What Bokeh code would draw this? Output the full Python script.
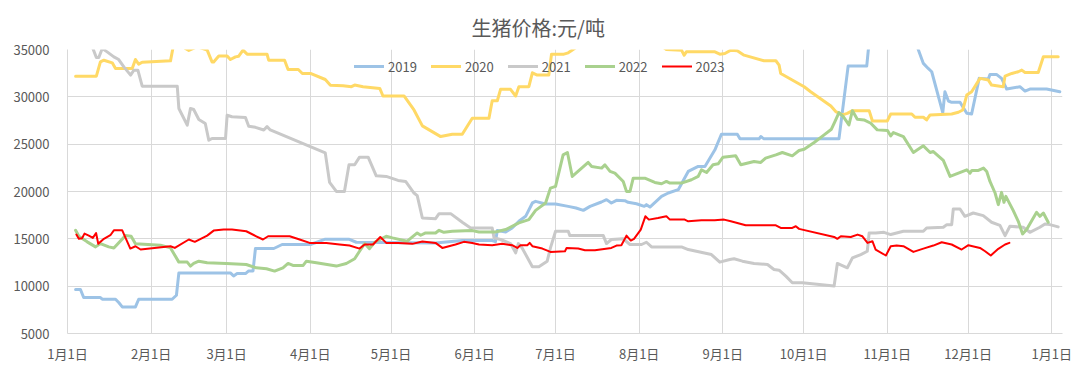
from bokeh.plotting import figure
from bokeh.models import Range1d, FixedTicker, Legend, LegendItem
from bokeh.embed import file_html
from bokeh.resources import INLINE

title_text = "生猪价格:元/吨"
month_days = [0, 31, 59, 90, 120, 151, 181, 212, 243, 273, 304, 334, 365]
month_labels = ["1月1日", "2月1日", "3月1日", "4月1日", "5月1日", "6月1日", "7月1日",
                "8月1日", "9月1日", "10月1日", "11月1日", "12月1日", "1月1日"]
y_ticks = [5000, 10000, 15000, 20000, 25000, 30000, 35000]

d2019 = [3, 4.8, 6, 12.2, 12.9, 17.8, 19, 20.3, 25.2, 26.4, 38.8, 40.4, 41.3, 60.4, 61.6, 62.9, 66, 67.2,
         68.8, 69.7, 76.5, 79.6, 90.1, 95.6, 104.3, 107.1, 136.5, 146.4, 157.5, 158.7, 159.4, 162.5, 164.9,
         167.4, 169.9, 172.4, 173.6, 177.3, 181, 185.7, 188.6, 191.3, 193.8, 198, 199.9, 201.7, 203.6,
         206.7, 207.9, 211, 213.9, 214.7, 216, 220.3, 222.8, 226.5, 230.2, 233.9, 236.4, 240.1, 242.5,
         248.4, 249.4, 256.5, 257.1, 258.3, 286.1, 289.5, 296.4, 297, 301.3, 310.6, 315.5, 317.4, 319.2,
         320.5, 324.6, 325.4, 326.7, 327.9, 331, 333.5, 335.3, 338.1, 341.5, 342.1, 344.5, 346.4, 348.3,
         353.2, 355.1, 356.9, 363.1, 368]
v2019 = [9650, 9650, 8800, 8800, 8620, 8620, 8270, 7810, 7810, 8620, 8620, 9040, 11400, 11400, 11080, 11330,
         11330, 11610, 11610, 13980, 13980, 14400, 14400, 14960, 14960, 14640, 14570, 14820, 14820, 14700,
         15870, 15730, 16150, 16850, 17380, 18790, 18960, 18680, 18680, 18430, 18260, 18010, 18430, 18890,
         19140, 18780, 19070, 19030, 18860, 18710, 18430, 18610, 18360, 19490, 19840, 20190, 22120, 22650,
         22650, 24400, 26050, 26050, 25560, 25560, 25800, 25560, 25560, 33250, 33250, 35000, 40000, 40000,
         35000, 33530, 33000, 32650, 28330, 30540, 29560, 29420, 29420, 28260, 28190, 31950, 31880, 32370,
         32370, 31950, 30820, 31070, 30610, 30820, 30820, 30540]

d2020 = [3, 10.7, 12.2, 13.5, 16.6, 17.8, 24, 25.2, 26.4, 27.7, 38.2, 40, 43, 43.7, 45, 48.1, 51.8, 53.6,
         54.2, 56.1, 59.2, 60.4, 62.3, 63.5, 65.1, 66.6, 74, 74.6, 80.5, 81.8, 85.6, 87.1, 90.1, 95.6, 97.5,
         102.2, 105.3, 106.5, 109.6, 115.8, 117, 124.8, 128.5, 131.6, 138.4, 142.7, 146.4, 150.1, 156.3,
         157.5, 159.4, 160.6, 164.3, 166.2, 167.4, 171.1, 172.4, 174.2, 178.5, 179.5, 184.1, 185.7, 187.5,
         197.6, 212.4, 222.1, 227.7, 228.7, 229.5, 240.1, 241.9, 243.8, 246, 248.4, 250.9, 258.3, 262.7,
         263.9, 264.5, 273.2, 275.6, 283.1, 284.9, 287.4, 289.2, 291.1, 297.3, 298.5, 304, 305.3, 313.1,
         314.3, 317.4, 318.6, 319.9, 327.9, 330.4, 332, 333.5, 335.3, 338.4, 341.5, 342.7, 347, 347.7,
         350.2, 352.6, 353.9, 355.1, 360, 361.9, 367.4]
v2020 = [32180, 32180, 33690, 33870, 33590, 32990, 32990, 33940, 33450, 33660, 33800, 36500, 36000, 35100,
         34900, 35300, 34930, 33690, 33690, 34320, 34320, 33940, 34220, 34290, 34930, 34510, 34510, 33870,
         33870, 32890, 32890, 32470, 32470, 31830, 31230, 31170, 31070, 31240, 31070, 30890, 30090, 30090,
         28610, 26930, 25800, 26050, 26050, 27730, 27730, 29590, 29590, 30790, 30790, 30090, 31070, 31070,
         32540, 32300, 32300, 34510, 34510, 34650, 35000, 37000, 37000, 35000, 34930, 34400, 34750, 34750,
         34510, 34580, 34930, 34860, 34400, 33810, 33810, 33350, 32470, 31070, 30540, 29030, 28440, 28090,
         28260, 28540, 28540, 27450, 27450, 28190, 28190, 27840, 27840, 27560, 28090, 28190, 28370, 28610,
         30190, 30540, 31950, 31770, 31240, 31070, 32190, 32470, 32650, 32820, 32580, 32580, 34230, 34230]

d2021 = [3, 9.2, 10.7, 11.6, 12.9, 14.7, 17.2, 19, 20.9, 23.4, 24.6, 26.1, 27.7, 40.7, 41.3, 44.4, 45.6,
         46.8, 48.7, 51.1, 52.4, 53.6, 58.6, 59.2, 61, 66, 67.2, 69.7, 72.8, 74, 75.2, 95.6, 97.2, 99.7,
         102.7, 104.4, 106.5, 108.3, 111.5, 114.5, 118.2, 122.6, 125.4, 128.5, 129.7, 131.6, 136.5, 137.8,
         142.1, 146.4, 149.5, 157.5, 158.2, 160.6, 164.3, 166.2, 167.2, 168.6, 172.4, 174.8, 177.9, 179.1,
         181, 185.7, 186.3, 198.7, 199.9, 201.7, 206.1, 208.6, 212.9, 214.7, 216.6, 227.7, 230.2, 238.8,
         241.9, 245.6, 247.2, 250.3, 254.6, 259.6, 262, 263.9, 266.4, 268.8, 272.5, 284.3, 285.5, 289.2,
         291.1, 294.2, 296.6, 297.3, 299.7, 302.8, 305.3, 310, 317.4, 318.6, 324.8, 326.1, 327.9, 328.5,
         331, 332.8, 335.9, 339.6, 342.7, 345.8, 347.7, 349.5, 354.4, 356.9, 360.6, 362.5, 364.3, 367.4]
v2021 = [36500, 35270, 34150, 34150, 35100, 34750, 34220, 33940, 33160, 32290, 32810, 32810, 31120, 31120,
         28770, 27010, 28770, 28660, 27610, 27190, 25420, 25600, 25600, 28060, 27900, 27820, 26900, 26780,
         26500, 26850, 26500, 24080, 20960, 20010, 20010, 22820, 22820, 23630, 23630, 21660, 21590, 21170,
         21060, 19840, 19560, 17200, 17130, 17660, 17660, 16750, 16150, 16150, 15100, 14930, 14500, 13520,
         14500, 14040, 12050, 12050, 12640, 14040, 15800, 15800, 15340, 15340, 14500, 14930, 15000, 14400,
         14400, 14640, 14150, 14150, 13870, 13340, 12540, 12820, 12890, 12640, 12400, 12290, 11760, 11690,
         11060, 10360, 10360, 10010, 12400, 11940, 12990, 13340, 13690, 15620, 15620, 15690, 15450, 15800,
         15800, 16150, 16220, 16500, 16500, 18150, 18150, 17380, 17730, 17450, 16750, 16430, 15340, 16330,
         16220, 15690, 16220, 16570, 16500, 16260]

d2022 = [3, 4.2, 7.3, 10.4, 12.2, 15.3, 17.2, 21.5, 23.6, 25.2, 34.5, 38.2, 41.3, 44.4, 45.6, 46.8, 48.7,
         51.8, 58.9, 66.3, 70, 73.8, 76.8, 79.9, 81.8, 83.6, 87.4, 88.6, 92.3, 99.7, 103.4, 106.5, 108.3,
         110.2, 112, 113.9, 118.2, 120.5, 126, 129.7, 131, 132.8, 136.5, 137.8, 139.6, 142.7, 150.1, 152.6,
         158.7, 162.5, 167.4, 171.1, 173.6, 177.3, 179.1, 181, 183.8, 185.4, 187.2, 193.1, 194.4, 198.1,
         199.3, 201.2, 203, 206.1, 207.3, 208.6, 209.8, 214.1, 217.8, 220.3, 222.1, 223.4, 227.7, 231.4,
         233.9, 235.1, 237, 239.4, 241.3, 243.1, 247.8, 249.7, 254.6, 257.1, 258.9, 262.7, 265.1, 268.8,
         271.3, 273.2, 276.9, 280.6, 283.3, 284.6, 286.1, 287.7, 289.8, 291.1, 292.9, 295.4, 297.9, 300.3,
         304.1, 305.3, 306.3, 310, 313.7, 317.4, 319.9, 321.1, 324.8, 327.3, 333.5, 334.7, 335.4, 337.8,
         339.7, 340.9, 342.1, 344, 345.2, 346.4, 347.3, 348, 350.7, 352.6, 354.2, 355.7, 359.4, 360.6,
         361.9, 363.7]
v2022 = [15900, 15270, 14680, 14150, 14500, 14150, 14040, 15340, 15270, 14470, 14330, 14040, 12540, 12540,
         12120, 12400, 12640, 12470, 12400, 12290, 11940, 11840, 11590, 11940, 12400, 12190, 12190, 12640,
         12470, 12120, 12400, 12890, 13690, 14500, 13970, 14640, 15270, 15100, 14750, 15620, 15380, 15620,
         15620, 15900, 15690, 15800, 15870, 15730, 15730, 15980, 16680, 17030, 18010, 18780, 20360, 20540,
         23870, 24120, 21590, 23070, 22650, 22470, 22820, 22120, 21940, 21060, 20010, 20010, 21410, 21410,
         20960, 20820, 21060, 20890, 20890, 21240, 21590, 22290, 22010, 22820, 22930, 23630, 23770, 22820,
         23170, 23070, 23520, 23870, 24120, 23770, 24330, 24470, 25170, 25980, 26580, 27380, 28330, 27910,
         27030, 28540, 27630, 27560, 27210, 26510, 26440, 25870, 26230, 25800, 24120, 24820, 24120, 24220,
         23280, 21590, 22290, 21940, 22220, 22220, 22470, 22120, 21060, 19840, 18610, 19910, 18860, 19490,
         18010, 16850, 15520, 15980, 17800, 17380, 17730, 16750]

d2023 = [3.3, 4.2, 5.4, 6.3, 7.9, 9.4, 10.6, 11.4, 13.5, 15.9, 17.2, 20.3, 23.3, 25.2, 27.1, 38.2, 39.8, 45,
         47.2, 51.8, 54.2, 57.9, 61, 66.3, 70, 72.5, 74.4, 82.4, 86.1, 89.8, 96, 100.9, 104.6, 108.3, 110.2,
         113.3, 116, 118.2, 122.6, 127.9, 131.6, 136.5, 139, 143.9, 147, 150.1, 152.6, 157.5, 161.2, 164.9,
         166.8, 168, 170.5, 171.4, 172.4, 176.1, 179.1, 184.5, 185.1, 189.4, 191.9, 195.6, 201.7, 203.6,
         205.4, 207.3, 208.9, 210.1, 212.6, 214.3, 215.6, 219, 222.1, 223.4, 228.9, 230.2, 235.1, 240,
         243.5, 246, 248.4, 251.5, 262.7, 264.5, 268.8, 270.1, 271.3, 284.3, 285.5, 286.8, 290.5, 293,
         294.8, 296.7, 298.5, 299.7, 303.5, 305.3, 307.5, 310, 313.7, 317.4, 321.1, 324.2, 327.9, 331.6,
         334.1, 338.4, 340.3, 342.4, 345.2, 347.7, 349.3]
v2023 = [15450, 15000, 15060, 15550, 15340, 15100, 15620, 14470, 15000, 15380, 15900, 15900, 13970, 14220,
         13870, 14220, 14040, 14930, 14680, 15340, 15870, 15980, 15980, 15800, 15270, 14930, 15270, 15270,
         14930, 14570, 14570, 14400, 14290, 13970, 14400, 14400, 15200, 14570, 14570, 14470, 14710, 14570,
         14040, 14400, 14680, 14570, 14400, 14330, 14470, 14330, 14040, 14330, 14330, 14570, 14220, 13970,
         13620, 13690, 14040, 13970, 13800, 13800, 14040, 14290, 14330, 15340, 14820, 15000, 15980, 17380,
         17030, 17200, 17380, 17030, 17030, 16850, 16960, 16960, 17030, 16850, 16680, 16430, 16430, 16150,
         16150, 16330, 16050, 15200, 15000, 15270, 15200, 15450, 15270, 14570, 14750, 13870, 13240, 14220,
         14290, 14220, 13620, 13970, 14290, 14640, 14400, 13870, 14330, 14040, 13690, 13240, 13940, 14400,
         14570]

series = [
    ("2019", d2019, v2019, "#9DC3E6", 3),
    ("2020", d2020, v2020, "#FFD966", 3),
    ("2021", d2021, v2021, "#C9C9C9", 3),
    ("2022", d2022, v2022, "#A9D18E", 3),
    ("2023", d2023, v2023, "#FF0000", 2),
]

FONT = "Noto Sans CJK SC"
TXT = "#595959"
GRID = "#D9D9D9"

p = figure(width=1080, height=375, output_backend="svg", toolbar_location=None,
           x_range=Range1d(0, 369), y_range=Range1d(5000, 35000),
           min_border_left=67, min_border_right=18, min_border_top=49, min_border_bottom=42)
p.outline_line_color = None

p.title.text = title_text
p.title.text_font = FONT
p.title.text_font_size = "20px"
p.title.text_font_style = "normal"
p.title.text_color = TXT
p.title.align = "left"
p.title.offset = 404
p.title.standoff = 16

items = []
for name, xs, ys, col, w in series:
    r = p.line(xs, ys, line_color=col, line_width=w, line_join="round", line_cap="round")
    items.append(LegendItem(label=name, renderers=[r]))

legend = Legend(items=items, orientation="horizontal", location=(280, 250),
                glyph_width=30, glyph_height=20, label_standoff=4, spacing=14,
                padding=7, margin=0, label_text_font=FONT, label_text_font_size="13px",
                label_text_color=TXT, background_fill_alpha=0, border_line_alpha=0)
p.add_layout(legend, "center")

p.xaxis.ticker = FixedTicker(ticks=month_days)
p.xaxis.major_label_overrides = {d: lab for d, lab in zip(month_days, month_labels)}
p.yaxis.ticker = FixedTicker(ticks=y_ticks)
p.yaxis.formatter.use_scientific = False

for ax in (p.xaxis[0], p.yaxis[0]):
    ax.major_label_text_font = FONT
    ax.major_label_text_font_size = "13px"
    ax.major_label_text_color = TXT
    ax.major_tick_line_color = None
    ax.minor_tick_line_color = None
    ax.axis_line_color = GRID
    ax.major_tick_out = 0
    ax.major_tick_in = 0
p.yaxis.major_label_standoff = 18
p.xaxis.major_label_standoff = 10

p.xgrid.ticker = FixedTicker(ticks=month_days)
p.ygrid.ticker = FixedTicker(ticks=y_ticks)
p.xgrid.grid_line_color = GRID
p.ygrid.grid_line_color = GRID

open("out.html", "w").write(file_html(p, INLINE))
